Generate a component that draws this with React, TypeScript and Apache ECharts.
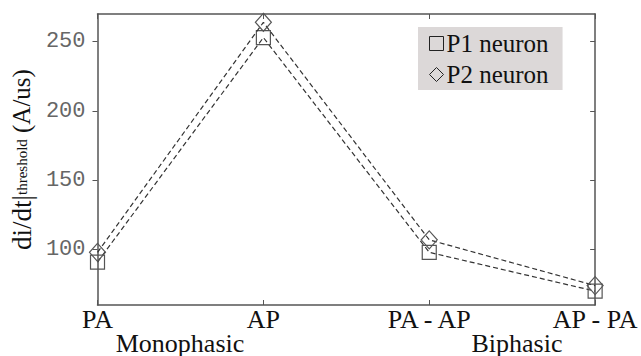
import React, { useEffect, useRef } from "react";
import * as echarts from "echarts";

const categories = ["PA", "AP", "PA - AP", "AP - PA"];
const p1Values = [91, 253, 98, 70];
const p2Values = [98, 264, 107, 74];
const yTicks = [100, 150, 200, 250];
const groupLabels = ["Monophasic", "Biphasic"];

const SERIF = "Liberation Serif";
const MONO = "Liberation Mono";

export default function App() {
  const ref = useRef<HTMLDivElement>(null);
  useEffect(() => {
    if (!ref.current) return;
    const chart = echarts.init(ref.current, undefined, { renderer: "svg" });
    const axisLine = { show: true, lineStyle: { color: "#555", width: 1.5 } };
    const lineStyle = { color: "#333", width: 1.2, type: [5, 3] as any };
    chart.setOption({
      animation: false,
      backgroundColor: "#fff",
      textStyle: { fontFamily: SERIF },
      grid: { left: 95, right: 42, top: 14, bottom: 51 },
      legend: {
        orient: "vertical",
        left: 418,
        top: 27,
        backgroundColor: "#dcd8d8",
        padding: [4, 14, 3, 11],
        itemGap: 6,
        itemWidth: 14,
        itemHeight: 14,
        textStyle: { fontFamily: SERIF, fontSize: 25, color: "#111", padding: [0, 0, 0, -2] },
        itemStyle: { color: "transparent", borderColor: "#222", borderWidth: 1 },
        data: [
          { name: "P1 neuron", icon: "rect" },
          { name: "P2 neuron", icon: "diamond" },
        ],
      },
      xAxis: [
        {
          type: "category",
          data: categories,
          boundaryGap: false,
          axisLine,
          axisTick: { show: true, inside: true, length: 5, lineStyle: { color: "#555" } },
          axisLabel: { fontFamily: SERIF, fontSize: 26, color: "#111", margin: 1, interval: 0 },
        },
        {
          type: "category",
          data: categories,
          boundaryGap: false,
          position: "top",
          axisLine,
          axisTick: { show: true, inside: true, length: 5, lineStyle: { color: "#555" } },
          axisLabel: { show: false },
        },
      ],
      yAxis: [
        {
          type: "value",
          min: 60,
          max: 270,
          position: "left",
          axisLine,
          splitLine: { show: false },
          axisTick: { show: true, inside: false, length: 5, customValues: yTicks, lineStyle: { color: "#555" } },
          axisLabel: {
            fontFamily: MONO,
            fontSize: 22,
            color: "#666",
            margin: 12,
            customValues: yTicks,
          },
          name: "{a|di/dt|}{b|threshold}{c| (A/us)}",
          nameLocation: "middle",
          nameRotate: 90,
          nameGap: 60,
          nameTextStyle: {
            fontFamily: SERIF,
            rich: {
              a: { fontFamily: SERIF, fontSize: 27, color: "#111", lineHeight: 28, verticalAlign: "middle" },
              b: { fontFamily: SERIF, fontSize: 15, color: "#111", lineHeight: 28, verticalAlign: "middle" },
              c: { fontFamily: SERIF, fontSize: 25, color: "#111", lineHeight: 28, verticalAlign: "middle" },
            },
          },
        },
        {
          type: "value",
          min: 60,
          max: 270,
          position: "right",
          axisLine,
          splitLine: { show: false },
          axisTick: { show: true, inside: true, length: 5, customValues: yTicks, lineStyle: { color: "#555" } },
          axisLabel: { show: false },
        },
      ],
      series: [
        {
          name: "P1 neuron",
          type: "line",
          data: p1Values,
          symbol: "rect",
          symbolSize: 14,
          lineStyle,
          itemStyle: { color: "transparent", borderColor: "#555", borderWidth: 1.2 },
          z: 2,
        },
        {
          name: "P2 neuron",
          type: "line",
          data: p2Values,
          symbol: "diamond",
          symbolSize: [16, 18],
          lineStyle,
          itemStyle: { color: "transparent", borderColor: "#555", borderWidth: 1.2 },
          z: 3,
        },
      ],
      graphic: [
        {
          type: "text",
          x: 180,
          y: 343,
          style: {
            text: groupLabels[0],
            fontFamily: SERIF,
            fontSize: 26,
            fill: "#111",
            align: "center",
            verticalAlign: "middle",
          },
        },
        {
          type: "text",
          x: 517,
          y: 343,
          style: {
            text: groupLabels[1],
            fontFamily: SERIF,
            fontSize: 26,
            fill: "#111",
            align: "center",
            verticalAlign: "middle",
          },
        },
      ],
    });
    return () => chart.dispose();
  }, []);
  return (
    <div
      ref={ref}
      style={{ position: "absolute", left: 0, top: 0, width: 641, height: 356 }}
    />
  );
}
